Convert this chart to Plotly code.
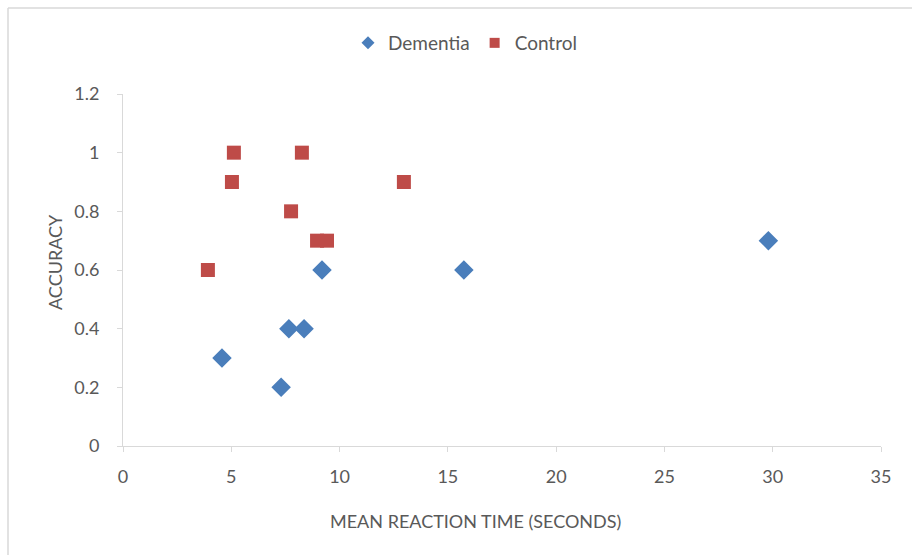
import plotly.graph_objects as go

dementia_x = [4.57, 7.3, 7.66, 8.36, 9.19, 15.74, 29.8]
dementia_y = [0.3, 0.2, 0.4, 0.4, 0.6, 0.6, 0.7]
control_x = [3.92, 5.03, 5.12, 7.76, 8.26, 8.96, 9.42, 12.97]
control_y = [0.6, 0.9, 1.0, 0.8, 1.0, 0.7, 0.7, 0.9]
x_ticks = [0, 5, 10, 15, 20, 25, 30, 35]
y_ticks = [0, 0.2, 0.4, 0.6, 0.8, 1, 1.2]
y_tick_labels = ["0", "0.2", "0.4", "0.6", "0.8", "1", "1.2"]

W, H = 912, 555
L, R, T, B = 123, 31, 94, 109
pw, ph = W - L - R, H - T - B

def px(xp):
    return (xp - L) / pw

def py(yp):
    return (H - B - yp) / ph

BLUE = "#4a7ebb"
RED = "#be4b48"
GREY = "#595959"
FAM = "Lato, 'Open Sans', sans-serif"

fig = go.Figure()
fig.add_trace(go.Scatter(
    x=dementia_x, y=dementia_y, mode="markers", name="Dementia", showlegend=False,
    marker=dict(symbol="diamond", size=15, color=BLUE, line=dict(width=0)),
))
fig.add_trace(go.Scatter(
    x=control_x, y=control_y, mode="markers", name="Control", showlegend=False,
    marker=dict(symbol="square", size=14, color=RED, line=dict(width=0)),
))
# legend entries (smaller symbols, as in the reference)
fig.add_trace(go.Scatter(
    x=[None], y=[None], mode="markers", name="Dementia",
    marker=dict(symbol="diamond", size=10, color=BLUE, line=dict(width=0)),
))
fig.add_trace(go.Scatter(
    x=[None], y=[None], mode="markers", name="Control",
    marker=dict(symbol="square", size=10, color=RED, line=dict(width=0)),
))

fig.update_layout(
    width=W, height=H,
    margin=dict(l=L, r=R, t=T, b=B),
    paper_bgcolor="white", plot_bgcolor="white",
    font=dict(family=FAM, size=18, color=GREY),
    showlegend=True,
    legend=dict(orientation="h", x=px(465), xanchor="center", y=py(43), yanchor="middle",
                font=dict(family=FAM, size=19, color=GREY), itemwidth=30, tracegroupgap=0,
                bgcolor="rgba(0,0,0,0)"),
    xaxis=dict(range=[0, 35], tickvals=x_ticks, showgrid=False, zeroline=False,
               showline=True, linecolor="#d9d9d9", linewidth=1,
               ticks="outside", ticklen=5, tickcolor="#d9d9d9", ticklabelstandoff=9,
               tickfont=dict(family=FAM, size=18, color=GREY)),
    yaxis=dict(range=[0, 1.2], tickvals=y_ticks, ticktext=y_tick_labels, showgrid=False, zeroline=False,
               showline=True, linecolor="#d9d9d9", linewidth=1,
               ticks="outside", ticklen=5, tickcolor="#d9d9d9", ticklabelstandoff=14,
               tickfont=dict(family=FAM, size=18, color=GREY)),
    annotations=[
        dict(text="MEAN REACTION TIME (SECONDS)", xref="paper", yref="paper",
             x=px(475), y=py(521), xanchor="center", yanchor="middle", showarrow=False,
             font=dict(family=FAM, size=18, color=GREY)),
        dict(text="ACCURACY", xref="paper", yref="paper", textangle=-90,
             x=px(55), y=py(262), xanchor="center", yanchor="middle", showarrow=False,
             font=dict(family=FAM, size=18, color=GREY)),
    ],
    shapes=[
        dict(type="line", xref="paper", yref="paper", x0=px(8), x1=px(912), y0=py(8), y1=py(8),
             line=dict(color="#d9d9d9", width=1.5)),
        dict(type="line", xref="paper", yref="paper", x0=px(8), x1=px(8), y0=py(8), y1=py(555),
             line=dict(color="#d9d9d9", width=1.5)),
    ],
)

fig.write_html("out.html")
